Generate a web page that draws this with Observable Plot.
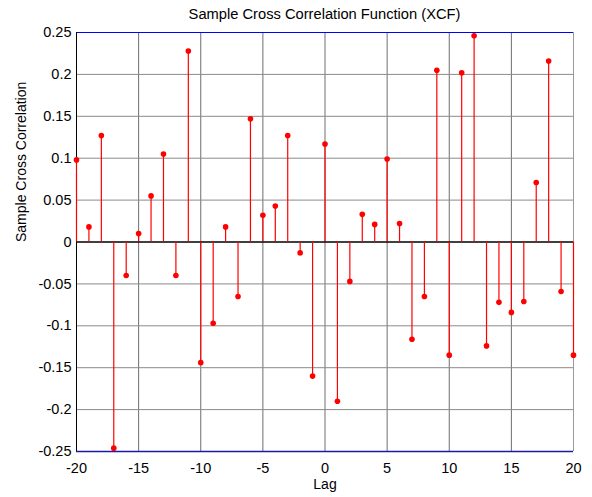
<!DOCTYPE html>
<html>
<head>
<meta charset="utf-8">
<script src="https://cdn.jsdelivr.net/npm/d3@7"></script>
<script src="https://cdn.jsdelivr.net/npm/@observablehq/plot@0.6"></script>
<style>
  html, body { margin: 0; padding: 0; background: #fff; }
  #wrap { width: 592px; height: 497px; position: relative; font-family: "Liberation Sans", Arial, sans-serif; }
  #title { margin-left: 76px; width: 497px; height: 24px; text-align: center; font-size: 14.7px; line-height: 15px; padding-top: 7px; box-sizing: border-box; color: #000; white-space: nowrap; }
  svg { display: block; }
</style>
</head>
<body>
<div id="wrap">
  <div id="title">Sample Cross Correlation Function (XCF)</div>
  <div id="chart"></div>
</div>
<script>
const lags = [-20,-19,-18,-17,-16,-15,-14,-13,-12,-11,-10,-9,-8,-7,-6,-5,-4,-3,-2,-1,0,1,2,3,4,5,6,7,8,9,10,11,12,13,14,15,16,17,18,19,20];
const xcf = [0.098,0.018,0.127,-0.246,-0.040,0.010,0.055,0.105,-0.040,0.228,-0.144,-0.097,0.018,-0.065,0.147,0.032,0.043,0.127,-0.013,-0.160,0.117,-0.190,-0.047,0.033,0.021,0.099,0.022,-0.116,-0.065,0.205,-0.135,0.202,0.246,-0.124,-0.072,-0.084,-0.071,0.071,0.216,-0.059,-0.135];
const xTicks = [-20,-15,-10,-5,0,5,10,15,20];
const yTicks = [-0.25,-0.2,-0.15,-0.1,-0.05,0,0.05,0.1,0.15,0.2,0.25];
const xLabel = "Lag";
const yLabel = "Sample Cross Correlation";

const data = lags.map((lag, i) => ({lag, value: xcf[i]}));
const innerX = xTicks.slice(1, -1);
const innerY = yTicks.slice(1, -1).filter(d => d !== 0);

const chart = Plot.plot({
  width: 592,
  height: 473,
  marginLeft: 76,
  marginRight: 19,
  marginTop: 8,
  marginBottom: 46,
  style: {fontFamily: '"Liberation Sans", Arial, sans-serif', fontSize: "14.5px", color: "#000", background: "#fff"},
  x: {domain: [-20, 20], ticks: xTicks, tickFormat: d => String(d), tickSize: 0, tickPadding: 11, label: null},
  y: {domain: [-0.25, 0.25], ticks: yTicks, tickFormat: d => String(d), tickSize: 0, tickPadding: 5, label: null},
  marks: [
    Plot.ruleX(innerX, {stroke: "#6e6e6e", strokeWidth: 1}),
    Plot.ruleY(innerY, {stroke: "#8a8a8a", strokeWidth: 1}),
    Plot.ruleY([0.25], {stroke: "#0000ff", strokeWidth: 1.2}),
    Plot.ruleY([-0.25], {stroke: "#1a1aa6", strokeWidth: 1.5}),
    Plot.ruleX([20], {stroke: "#9a9a9a", strokeWidth: 1}),
    Plot.ruleX([-20], {stroke: "#000", strokeWidth: 1}),
    Plot.ruleY([0], {stroke: "#000", strokeWidth: 1.5}),
    Plot.ruleX(data, {x: "lag", y1: 0, y2: "value", stroke: "#ff0000", strokeWidth: 1.2}),
    Plot.dot(data, {x: "lag", y: "value", r: 2.8, fill: "#ff0000", stroke: "none"}),
    Plot.text([xLabel], {frameAnchor: "bottom", dy: 33, lineAnchor: "middle", fontSize: 14}),
    Plot.text([yLabel], {frameAnchor: "left", dx: -55, rotate: -90, lineAnchor: "middle", fontSize: 14})
  ]
});
document.getElementById("chart").appendChild(chart);
</script>
</body>
</html>
